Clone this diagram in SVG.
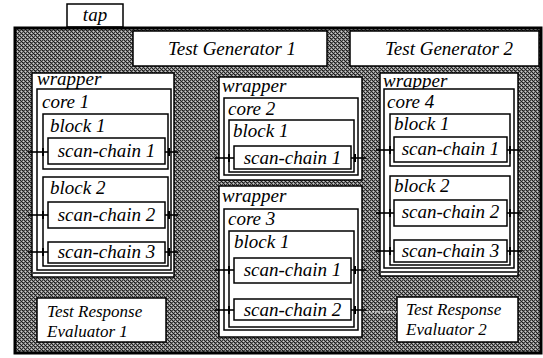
<svg xmlns="http://www.w3.org/2000/svg" width="543" height="358" viewBox="0 0 543 358">
<defs>
<pattern id="dither" width="4" height="4" patternUnits="userSpaceOnUse">
<rect width="4" height="4" fill="#8a8a8a"/>
<rect x="0" y="0" width="1" height="1" fill="#1e1e1e"/>
<rect x="2" y="0" width="1" height="1" fill="#3c3c3c"/>
<rect x="1" y="1" width="1" height="1" fill="#1a1a1a"/>
<rect x="3" y="1" width="1" height="1" fill="#d0d0d0"/>
<rect x="0" y="2" width="1" height="1" fill="#444"/>
<rect x="2" y="2" width="1" height="1" fill="#161616"/>
<rect x="3" y="3" width="1" height="1" fill="#2a2a2a"/>
<rect x="1" y="3" width="1" height="1" fill="#c8c8c8"/>
<rect x="3" y="2" width="1" height="1" fill="#4e4e4e"/>
</pattern>
</defs>
<style>
.box{fill:#fff;stroke:#000;stroke-width:1.5}
.t{font-family:"Liberation Serif",serif;font-style:italic;font-size:19px;fill:#000}
.e{font-size:17px}
.m{text-anchor:middle}
.stub{stroke:#000;stroke-width:1.6}
.tick{fill:#000}
</style>
<rect width="543" height="358" fill="#fff"/>
<g id="tap">
<rect class="box" x="67" y="4" width="56" height="23"/>
<text class="t m" x="95" y="21">tap</text>
</g>
<g id="chip">
<rect x="15" y="28" width="526" height="325" fill="url(#dither)" stroke="#000" stroke-width="3"/>
</g>
<g id="test-generator-1">
<rect class="box" x="133" y="31" width="194" height="35"/>
<text class="t m" x="232" y="55">Test Generator 1</text>
</g>
<g id="test-generator-2">
<rect class="box" x="350" y="31" width="189" height="35"/>
<text class="t" x="385" y="55">Test Generator 2</text>
</g>
<g id="wrapper-core1">
<rect class="box" x="32" y="73" width="142" height="204"/>
<line class="stub" x1="33" y1="273" x2="173" y2="273"/>
<text class="t" x="37" y="85">wrapper</text>
<rect class="box" x="37" y="89" width="134" height="181"/>
<text class="t" x="42" y="108">core 1</text>
<rect class="box" x="43" y="114" width="125" height="55"/>
<text class="t" x="50" y="132">block 1</text>
<rect class="box" x="48" y="138" width="117" height="26"/>
<text class="t m" x="106.5" y="157">scan-chain 1</text>
<rect class="box" x="43" y="177" width="125" height="89"/>
<text class="t" x="50" y="194">block 2</text>
<rect class="box" x="48" y="202" width="117" height="26"/>
<text class="t m" x="106.5" y="221">scan-chain 2</text>
<rect class="box" x="48" y="242" width="117" height="21"/>
<text class="t m" x="106.5" y="258">scan-chain 3</text>
</g>
<g id="wrapper-core2">
<rect class="box" x="219" y="77" width="143" height="103"/>
<text class="t" x="222" y="92">wrapper</text>
<rect class="box" x="224" y="98" width="134" height="77"/>
<text class="t" x="228" y="115">core 2</text>
<rect class="box" x="229" y="120" width="125" height="52"/>
<text class="t" x="233" y="137">block 1</text>
<rect class="box" x="234" y="146" width="117" height="23"/>
<text class="t m" x="292.5" y="164">scan-chain 1</text>
</g>
<g id="wrapper-core3">
<rect class="box" x="219" y="186" width="143" height="151"/>
<text class="t" x="222" y="202">wrapper</text>
<rect class="box" x="224" y="209" width="134" height="121"/>
<text class="t" x="228" y="225">core 3</text>
<rect class="box" x="229" y="231" width="125" height="96"/>
<text class="t" x="234" y="248">block 1</text>
<rect class="box" x="234" y="258" width="117" height="25"/>
<text class="t m" x="292.5" y="276">scan-chain 1</text>
<rect class="box" x="234" y="299" width="117" height="21"/>
<text class="t m" x="292.5" y="316">scan-chain 2</text>
</g>
<g id="wrapper-core4">
<rect class="box" x="380" y="73" width="138" height="203"/>
<line class="stub" x1="381" y1="272" x2="517" y2="272"/>
<text class="t" x="383" y="87">wrapper</text>
<rect class="box" x="384" y="89" width="130" height="179"/>
<text class="t" x="387" y="108">core 4</text>
<rect class="box" x="390" y="114" width="120" height="52"/>
<text class="t" x="394" y="130">block 1</text>
<rect class="box" x="394" y="137" width="113" height="25"/>
<text class="t m" x="450.5" y="155">scan-chain 1</text>
<rect class="box" x="390" y="176" width="120" height="89"/>
<text class="t" x="394" y="192">block 2</text>
<rect class="box" x="394" y="200" width="113" height="26"/>
<text class="t m" x="450.5" y="218">scan-chain 2</text>
<rect class="box" x="394" y="240" width="113" height="22"/>
<text class="t m" x="450.5" y="257">scan-chain 3</text>
</g>
<g id="test-response-evaluator-1">
<rect class="box" x="37" y="298" width="129" height="44"/>
<text class="t e" x="47" y="317">Test Response</text>
<text class="t e" x="47" y="337">Evaluator 1</text>
</g>
<g id="test-response-evaluator-2">
<rect class="box" x="397" y="297" width="121" height="45"/>
<text class="t e" x="406" y="315">Test Response</text>
<text class="t e" x="406" y="335">Evaluator 2</text>
</g>
<g id="connectors">
<line class="stub" x1="28" y1="152" x2="48" y2="152"/>
<line class="stub" x1="165" y1="152" x2="178" y2="152"/>
<line class="stub" x1="28" y1="215" x2="48" y2="215"/>
<line class="stub" x1="165" y1="215" x2="178" y2="215"/>
<line class="stub" x1="28" y1="252" x2="48" y2="252"/>
<line class="stub" x1="165" y1="252" x2="178" y2="252"/>
<line class="stub" x1="215" y1="158" x2="234" y2="158"/>
<line class="stub" x1="351" y1="158" x2="366" y2="158"/>
<line class="stub" x1="215" y1="270" x2="234" y2="270"/>
<line class="stub" x1="351" y1="270" x2="366" y2="270"/>
<line class="stub" x1="215" y1="310" x2="234" y2="310"/>
<line class="stub" x1="351" y1="310" x2="366" y2="310"/>
<line class="stub" x1="376" y1="150" x2="394" y2="150"/>
<line class="stub" x1="507" y1="150" x2="522" y2="150"/>
<line class="stub" x1="376" y1="213" x2="394" y2="213"/>
<line class="stub" x1="507" y1="213" x2="522" y2="213"/>
<line class="stub" x1="376" y1="251" x2="394" y2="251"/>
<line class="stub" x1="507" y1="251" x2="522" y2="251"/>
<line x1="366" y1="312" x2="397" y2="312" stroke="#fff" stroke-width="1" stroke-dasharray="2,1"/>
<g class="tick">
<rect x="42" y="148" width="2" height="8"/><rect x="168" y="148" width="2" height="8"/>
<rect x="42" y="211" width="2" height="8"/><rect x="168" y="211" width="2" height="8"/>
<rect x="42" y="248" width="2" height="8"/><rect x="168" y="248" width="2" height="8"/>
<rect x="228" y="154" width="2" height="8"/><rect x="354" y="154" width="2" height="8"/>
<rect x="228" y="266" width="2" height="8"/><rect x="354" y="266" width="2" height="8"/>
<rect x="228" y="306" width="2" height="8"/><rect x="354" y="306" width="2" height="8"/>
<rect x="389" y="146" width="2" height="8"/><rect x="509" y="146" width="2" height="8"/>
<rect x="389" y="209" width="2" height="8"/><rect x="509" y="209" width="2" height="8"/>
<rect x="389" y="247" width="2" height="8"/><rect x="509" y="247" width="2" height="8"/>
</g>
</g>
</svg>
